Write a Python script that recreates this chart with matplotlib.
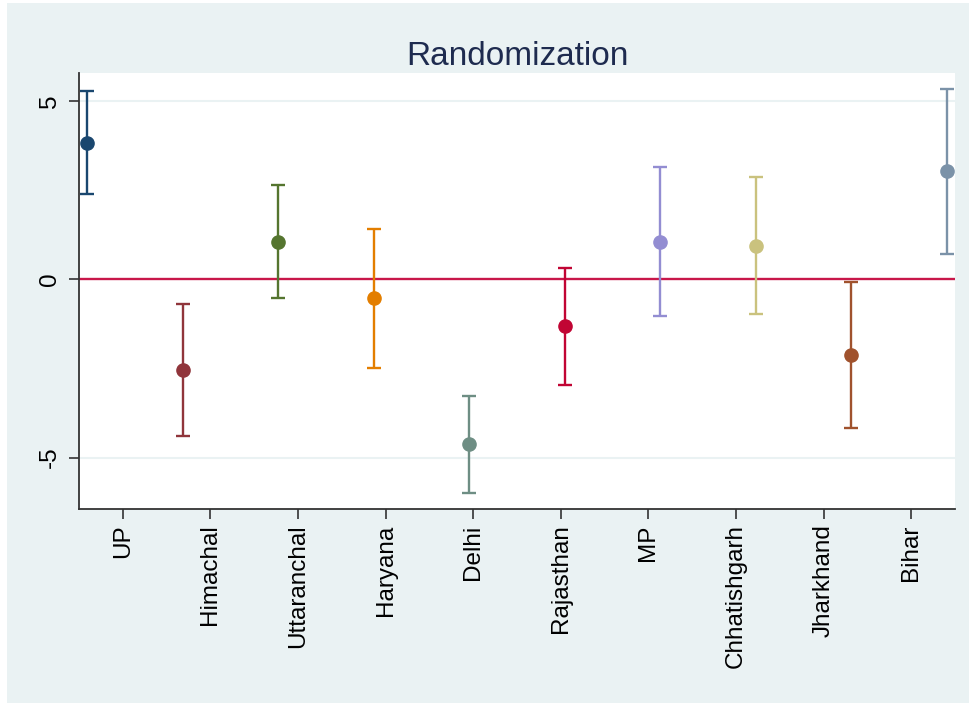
import matplotlib
matplotlib.use('Agg')
import matplotlib.pyplot as plt
from matplotlib.patches import Rectangle

states = ['UP', 'Himachal', 'Uttaranchal', 'Haryana', 'Delhi', 'Rajasthan',
          'MP', 'Chhatishgarh', 'Jharkhand', 'Bihar']
estimates = [3.83, -2.55, 1.06, -0.53, -4.62, -1.32, 1.05, 0.94, -2.13, 3.03]
ci_low = [2.40, -4.39, -0.53, -2.48, -6.00, -2.95, -1.04, -0.97, -4.16, 0.72]
ci_high = [5.28, -0.69, 2.65, 1.41, -3.26, 0.31, 3.14, 2.88, -0.08, 5.34]
colors = ['#1a476f', '#90353b', '#55752f', '#e37e00', '#6e8e84', '#c10534',
          '#938dd2', '#cac27e', '#a0522d', '#7b92a8']
yticks = [-5, 0, 5]

plt.rcParams['font.family'] = ['Liberation Sans', 'DejaVu Sans']

W, H = 969, 708
fig = plt.figure(figsize=(W / 100, H / 100), dpi=100, facecolor='white')
fig.patches.append(Rectangle((7 / W, 5 / H), 962 / W, 700 / H, transform=fig.transFigure,
                             facecolor='#eaf2f3', edgecolor='none', zorder=-10))
ax = fig.add_axes([79 / W, 1 - 509 / H, (955 - 79) / W, (509 - 73) / H])
ax.set_facecolor('white')

xs = list(range(1, len(states) + 1))
for x, est, lo, hi, c in zip(xs, estimates, ci_low, ci_high, colors):
    ax.errorbar([x], [est], yerr=[[est - lo], [hi - est]], fmt='o', color=c,
                ecolor=c, elinewidth=1.7, capsize=4.7, capthick=1.7,
                markersize=9.5, zorder=3)

ax.axhline(0, color='#c8174a', lw=1.7, zorder=2)
for yt in yticks:
    if yt != 0:
        ax.axhline(yt, color='#eaf2f3', lw=1.5, zorder=1)

x0, x1 = 0.913, 10.087
ax.set_xlim(x0, x1)
ax.set_ylim(-6.44, 5.785)
n = len(states)
ax.set_xticks([x0 + (i + 0.5) / n * (x1 - x0) for i in range(n)])
ax.set_xticklabels(states, rotation=90, fontsize=17.5)
ax.set_yticks(yticks)
ax.set_yticklabels([str(v) for v in yticks], rotation=90, va='center', fontsize=17.5)

ax.tick_params(axis='both', length=7, width=1.2, color='#333333')
ax.tick_params(axis='x', pad=4)
ax.tick_params(axis='y', pad=6)
for s in ['top', 'right']:
    ax.spines[s].set_visible(False)
for s in ['left', 'bottom']:
    ax.spines[s].set_color('#333333')
    ax.spines[s].set_linewidth(1.3)

ax.set_title('Randomization', fontsize=24, color='#1e2b4f', pad=6)

fig.savefig('out.png', dpi=100, facecolor='white')
